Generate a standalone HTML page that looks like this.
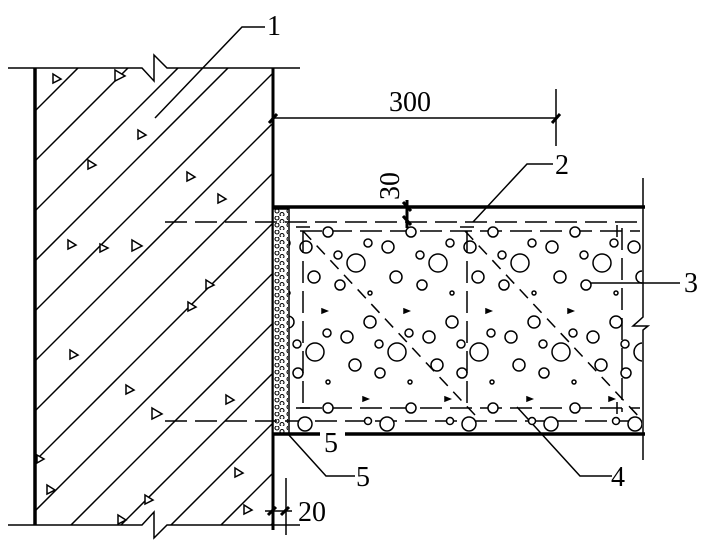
<!DOCTYPE html>
<html><head><style>html,body{margin:0;background:#fff;overflow:hidden;width:705px;height:550px}svg{display:block}text{font-family:"Liberation Serif",serif;fill:#000}</style></head>
<body>
<svg width="705" height="550" viewBox="0 0 705 550" xmlns="http://www.w3.org/2000/svg">
<defs>
<clipPath id="wall"><rect x="35" y="68" width="238" height="457"/></clipPath>
<clipPath id="slab"><rect x="289" y="209" width="353" height="224"/></clipPath>
<pattern id="fill" x="273" y="209" width="12" height="7" patternUnits="userSpaceOnUse">
<circle cx="4" cy="2" r="2" fill="none" stroke="#000" stroke-width="1.1"/>
<circle cx="9" cy="5.5" r="2" fill="none" stroke="#000" stroke-width="1.1"/>
</pattern>
<g id="cell" fill="none" stroke="#000" stroke-width="1.5">
<circle cx="26" cy="83" r="9"/><circle cx="67" cy="172" r="9"/>
<circle cx="58" cy="67" r="6"/><circle cx="66" cy="97" r="6"/><circle cx="40" cy="142" r="6"/><circle cx="17" cy="157" r="6"/><circle cx="25" cy="185" r="6"/>
<circle cx="38" cy="63" r="4"/><circle cx="8" cy="75" r="4"/><circle cx="79" cy="153" r="4"/><circle cx="49" cy="164" r="4"/>
<circle cx="10" cy="105" r="5"/><circle cx="50" cy="193" r="5"/>
<circle cx="40" cy="113" r="2"/><circle cx="80" cy="202" r="2"/>
<path d="M-8 129l5 2-5 2z M33 217l5 2-5 2z" fill="#000"/>
</g>
</defs>
<g clip-path="url(#wall)" stroke="#000" stroke-width="1.5">
<line x1="0" y1="146" x2="146" y2="0"/><line x1="0" y1="196" x2="196" y2="0"/><line x1="0" y1="246" x2="246" y2="0"/><line x1="0" y1="296" x2="296" y2="0"/><line x1="0" y1="346" x2="346" y2="0"/><line x1="0" y1="396" x2="396" y2="0"/><line x1="0" y1="446" x2="446" y2="0"/><line x1="0" y1="496" x2="496" y2="0"/><line x1="0" y1="546" x2="546" y2="0"/><line x1="0" y1="596" x2="596" y2="0"/><line x1="0" y1="646" x2="646" y2="0"/><line x1="0" y1="696" x2="696" y2="0"/><line x1="0" y1="746" x2="746" y2="0"/><line x1="0" y1="796" x2="796" y2="0"/>
</g>
<g fill="#fff" stroke="#000" stroke-width="1.5">
<path d="M53 74l8 5-8 4z"/><path d="M115 70l10 6-10 5z"/><path d="M138 130l8 5-8 4z"/><path d="M88 160l8 5-8 4z"/><path d="M187 172l8 5-8 4z"/><path d="M218 194l8 5-8 4z"/><path d="M68 240l8 5-8 4z"/><path d="M132 240l10 6-10 5z"/><path d="M100 244l8 4-8 4z"/><path d="M188 302l8 5-8 4z"/><path d="M206 280l8 5-8 4z"/><path d="M70 350l8 5-8 4z"/><path d="M126 385l8 5-8 4z"/><path d="M152 408l10 6-10 5z"/><path d="M226 395l8 5-8 4z"/><path d="M37 455l7 4-7 4z"/><path d="M47 485l8 5-8 4z"/><path d="M145 495l8 5-8 4z"/><path d="M118 515l8 5-8 4z"/><path d="M235 468l8 5-8 4z"/><path d="M244 505l8 5-8 4z"/>
</g>
<g stroke="#000" fill="none">
<line x1="35" y1="68" x2="35" y2="525" stroke-width="3.5"/>
<line x1="273" y1="68" x2="273" y2="530" stroke-width="3"/>
<path d="M8 68H142l12 13v-26l13 13H300" stroke-width="1.5" fill="#fff"/>
<path d="M8 525H142l12-13v26l13-13H300" stroke-width="1.5" fill="#fff"/>
<line x1="286" y1="478" x2="286" y2="535" stroke-width="1.5"/>
<path d="M268 515l8-8M281 515l8-8" stroke-width="3"/>
<line x1="265" y1="511" x2="292" y2="511" stroke-width="1.5"/>
<path d="M155 118L242 27H265" stroke-width="1.5"/>
<line x1="273" y1="118" x2="556" y2="118" stroke-width="1.5"/>
<line x1="556" y1="89" x2="556" y2="146" stroke-width="1.5"/>
<path d="M552 123l8-9M269 123l8-9" stroke-width="3"/>
<rect x="273" y="209" width="16" height="225" fill="#fff" stroke-width="1.5"/>
<rect x="274" y="209" width="14" height="225" fill="url(#fill)" stroke="none"/>
<line x1="273" y1="207" x2="645" y2="207" stroke-width="3.5"/>
<path d="M273 434H320M345 434H645" stroke-width="3.5"/>
<path d="M643 178V317l-10 9h15l-5 4V460" stroke-width="1.5" fill="#fff"/>
<g stroke-width="1.5" stroke-dasharray="22 8">
<line x1="165" y1="222" x2="640" y2="222"/><line x1="165" y1="421" x2="640" y2="421"/>
<line x1="300" y1="231" x2="640" y2="231"/><line x1="300" y1="408" x2="640" y2="408"/>
<line x1="303" y1="231" x2="303" y2="408"/><line x1="467" y1="231" x2="467" y2="408"/><line x1="622" y1="228" x2="622" y2="412"/>
<line x1="303" y1="231" x2="475" y2="415" stroke-dasharray="12 8"/><line x1="465" y1="231" x2="642" y2="420" stroke-dasharray="12 8"/>
</g>
<path d="M296 227h14M460 227h14M617 225v12M617 402v12M296 408h14" stroke-width="1.5"/>
<path d="M403 202l8 9M403 216l8 9M407 200v28" stroke-width="3"/>
<path d="M473 222L527 164H553" stroke-width="1.5"/>
<path d="M590 283H680" stroke-width="1.5"/>
<path d="M517 407L580 476H612" stroke-width="1.5"/>
<path d="M288 434L326 476H355" stroke-width="1.5"/>
</g>
<g clip-path="url(#slab)">
<use href="#cell" x="248" y="180"/><use href="#cell" x="330" y="180"/><use href="#cell" x="412" y="180"/><use href="#cell" x="494" y="180"/><use href="#cell" x="576" y="180"/>
<g fill="#fff" stroke="#000" stroke-width="1.5">
<circle cx="328" cy="232" r="5"/><circle cx="411" cy="232" r="5"/><circle cx="493" cy="232" r="5"/><circle cx="575" cy="232" r="5"/>
<circle cx="328" cy="408" r="5"/><circle cx="411" cy="408" r="5"/><circle cx="493" cy="408" r="5"/><circle cx="575" cy="408" r="5"/>
<circle cx="305" cy="424" r="7"/><circle cx="387" cy="424" r="7"/><circle cx="469" cy="424" r="7"/><circle cx="551" cy="424" r="7"/><circle cx="635" cy="424" r="7"/>
<circle cx="368" cy="421" r="3.5"/><circle cx="450" cy="421" r="3.5"/><circle cx="532" cy="421" r="3.5"/><circle cx="616" cy="421" r="3.5"/>
</g>
</g>
<g font-size="28">
<text x="267" y="35">1</text>
<text x="389" y="111">300</text>
<text x="555" y="174">2</text>
<text x="684" y="292">3</text>
<text x="611" y="486">4</text>
<text x="324" y="452">5</text>
<text x="356" y="486">5</text>
<text x="298" y="521">20</text>
<text transform="translate(399,200) rotate(-90)">30</text>
</g>
</svg>
</body></html>
